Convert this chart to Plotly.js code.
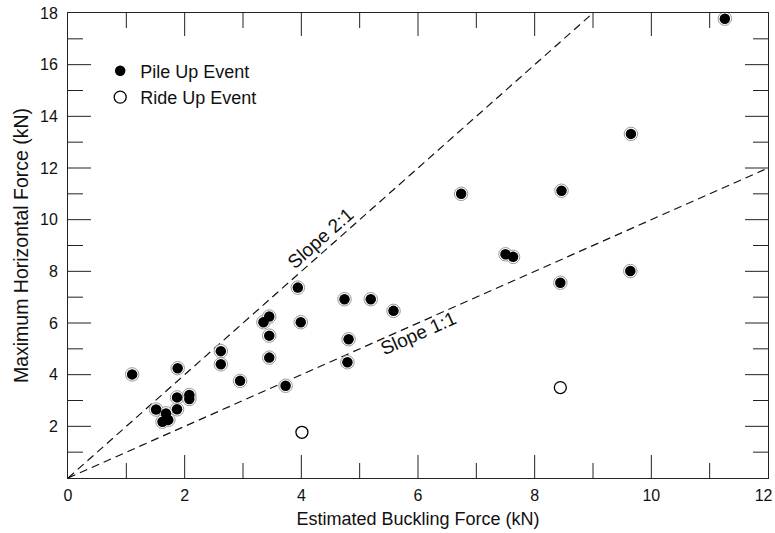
<!DOCTYPE html>
<html>
<head>
<meta charset="utf-8">
<script src="https://cdn.plot.ly/plotly-3.0.1.min.js"></script>
<style>html,body{margin:0;padding:0;background:#fff;}#chart{width:775px;height:533px;}</style>
</head>
<body>
<div id="chart"></div>
<script>
// Pile Up Event data (Estimated Buckling Force kN, Maximum Horizontal Force kN)
const pileX = [1.10, 1.88, 1.51, 1.87, 1.68, 1.72, 1.62, 1.87, 2.08, 2.08, 2.62, 2.62, 2.95,
               3.35, 3.45, 3.45, 3.45, 3.73, 3.94, 3.99, 4.74, 5.19, 5.58, 4.81, 4.79,
               6.74, 7.50, 7.63, 8.46, 8.44, 9.64, 9.65, 11.26];
const pileY = [4.01, 4.25, 2.65, 2.66, 2.50, 2.25, 2.18, 3.12, 3.21, 3.06, 4.91, 4.40, 3.76,
               6.03, 6.25, 5.51, 4.66, 3.57, 7.37, 6.03, 6.92, 6.92, 6.47, 5.37, 4.48,
               11.00, 8.66, 8.56, 11.12, 7.56, 8.01, 13.32, 17.78];
// Ride Up Event data
const rideX = [4.01, 8.44];
const rideY = [1.77, 3.50];
// Reference slope lines
const slope11X = [0, 12];
const slope11Y = [0, 12];
const slope21X = [0, 9];
const slope21Y = [0, 18];
// Tick labels
const xTicks = [0, 2, 4, 6, 8, 10, 12];
const xTickText = ['0', '2', '4', '6', '8', '10', '12\u00a0\u00a0'];
const yTicks = [2, 4, 6, 8, 10, 12, 14, 16, 18];
const yTickText = ['2', '4', '6', '8', '10', '12', '14', '16', '18'];

const font = 'Arial, Liberation Sans, sans-serif';
const txt = '#111';

const W = 775, H = 533, M = {l: 68, r: 7, t: 13, b: 55};
const plotW = W - M.l - M.r, plotH = H - M.t - M.b;
const xMax = 12, yMax = 18;
const majorPx = 23, minorPx = 15;

// Inward tick marks on all four sides (major every 2, minor every 1), as one line trace
const tickX = [], tickY = [];
for (let v = 1; v < xMax; v++) {
  const len = (v % 2 === 0 ? majorPx : minorPx) / plotH * yMax;
  tickX.push(v, v, null, v, v, null);
  tickY.push(0, len, null, yMax, yMax - len, null);
}
for (let v = 1; v < yMax; v++) {
  const len = (v % 2 === 0 ? majorPx : minorPx) / plotW * xMax;
  tickX.push(0, len, null, xMax, xMax - len, null);
  tickY.push(v, v, null, v, v, null);
}

const traces = [
  {x: tickX, y: tickY, mode: 'lines', line: {color: '#222', width: 1}, showlegend: false, hoverinfo: 'skip'},
  {x: slope11X, y: slope11Y, mode: 'lines', line: {color: '#111', width: 1.2, dash: '8px,5px'}, showlegend: false},
  {x: slope21X, y: slope21Y, mode: 'lines', line: {color: '#111', width: 1.2, dash: '8px,5px'}, showlegend: false},
  {x: pileX, y: pileY, mode: 'markers', showlegend: false,
   marker: {symbol: 'circle', size: 13.5, color: '#fff', line: {color: '#9a9a9a', width: 1}}},
  {x: pileX, y: pileY, mode: 'markers', name: 'Pile Up Event', legendgroup: 'a',
   marker: {symbol: 'circle', size: 10.5, color: '#000', line: {color: '#000', width: 0}}},
  {x: rideX, y: rideY, mode: 'markers', name: 'Ride Up Event', legendgroup: 'b',
   marker: {symbol: 'circle-open', size: 12, color: '#000', line: {color: '#000', width: 1.3}}}
];

const layout = {
  width: W, height: H, margin: M,
  paper_bgcolor: '#fff', plot_bgcolor: '#fff',
  xaxis: {range: [0, xMax], showgrid: false, zeroline: false, showline: true, mirror: true, linecolor: '#222', linewidth: 1,
          ticks: '', tickmode: 'array', tickvals: xTicks, ticktext: xTickText, ticklabelstandoff: 3, ticklabeloverflow: 'allow',
          tickfont: {family: font, size: 16, color: txt},
          title: {text: 'Estimated Buckling Force (kN)', font: {family: font, size: 18, color: txt}, standoff: 9}},
  yaxis: {range: [0, yMax], showgrid: false, zeroline: false, showline: true, mirror: true, linecolor: '#222', linewidth: 1,
          ticks: '', tickmode: 'array', tickvals: yTicks, ticktext: yTickText, ticklabelstandoff: 6,
          tickfont: {family: font, size: 16, color: txt},
          title: {text: 'Maximum Horizontal Force (kN)', font: {family: font, size: 19.5, color: txt}, standoff: 6}},
  legend: {x: 0.046, y: 0.915, xanchor: 'left', yanchor: 'top', bgcolor: 'rgba(0,0,0,0)',
           font: {family: font, size: 18, color: txt}, traceorder: 'grouped', tracegroupgap: 0},
  annotations: [
    {x: 4.32, y: 9.29, xref: 'x', yref: 'y', text: 'Slope 2:1', showarrow: false, textangle: -41.5,
     font: {family: font, size: 19, color: txt}},
    {x: 6.0, y: 5.61, xref: 'x', yref: 'y', text: 'Slope 1:1', showarrow: false, textangle: -23.9,
     font: {family: font, size: 19, color: txt}}
  ]
};

Plotly.newPlot('chart', traces, layout, {displayModeBar: false, staticPlot: true});
</script>
</body>
</html>
